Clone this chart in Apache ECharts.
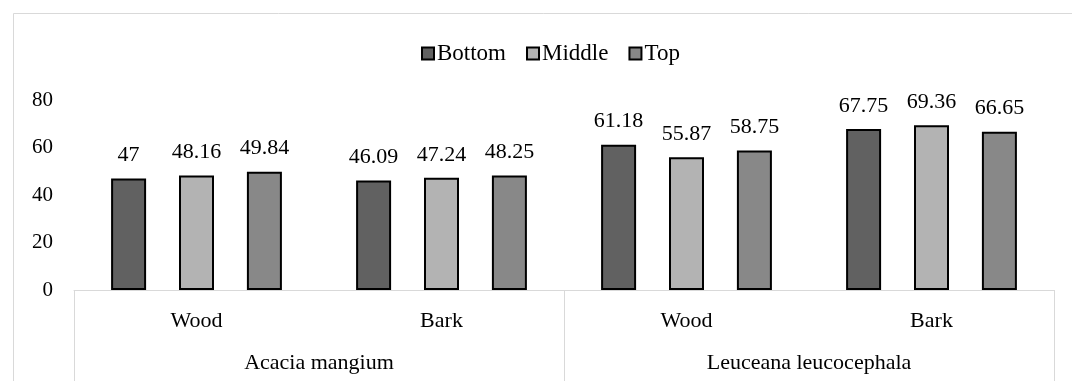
<!DOCTYPE html>
<html>
<head>
<meta charset="utf-8">
<script src="https://cdn.jsdelivr.net/npm/echarts@6/dist/echarts.min.js"></script>
<style>html,body{margin:0;padding:0;background:#fff}#c{width:1072px;height:381px}</style>
</head>
<body>
<div id="c"></div>
<script>
const subCategories = ['Wood', 'Bark', 'Wood', 'Bark'];
const groupCategories = ['Acacia mangium', 'Leuceana leucocephala'];
const seriesNames = ['Bottom', 'Middle', 'Top'];
const bottomValues = [47, 46.09, 61.18, 67.75];
const middleValues = [48.16, 47.24, 55.87, 69.36];
const topValues = [49.84, 48.25, 58.75, 66.65];
const yTicks = [0, 20, 40, 60, 80];

const FONT = '"Liberation Serif", "Times New Roman", serif';
const colors = ['#616161', '#b3b3b3', '#888888'];
const valuesList = [bottomValues, middleValues, topValues];

const chart = echarts.init(document.getElementById('c'), null, {renderer: 'canvas'});
chart.setOption({
  animation: false,
  backgroundColor: '#fff',
  graphic: [{
    type: 'rect', left: 11, top: 11, z: -1,
    shape: {width: 1100, height: 420},
    style: {fill: 'none', stroke: '#d9d9d9', lineWidth: 1}
  }],
  legend: {
    left: 416, top: 37,
    itemWidth: 12, itemHeight: 12, itemGap: 20,
    icon: 'rect',
    textStyle: {fontFamily: FONT, fontSize: 23, color: '#000', padding: [0, 0, 0, -2]},
    data: seriesNames
  },
  grid: {left: 74, right: 18, top: 100, bottom: 91, containLabel: false},
  xAxis: [{
    type: 'category', data: subCategories, position: 'bottom',
    axisLine: {show: true, lineStyle: {color: '#d9d9d9', width: 1}},
    axisTick: {show: false},
    axisLabel: {margin: 20, fontFamily: FONT, fontSize: 22, color: '#000'}
  }, {
    type: 'category', data: groupCategories, position: 'bottom',
    axisLine: {show: false},
    axisTick: {show: true, length: 95, interval: 0, lineStyle: {color: '#d9d9d9', width: 1}},
    axisLabel: {margin: 62, fontFamily: FONT, fontSize: 22, color: '#000'}
  }],
  yAxis: {
    type: 'value', min: 0, max: 80, interval: 20,
    axisLine: {show: false}, axisTick: {show: false},
    splitLine: {show: false},
    axisLabel: {margin: 21, fontFamily: FONT, fontSize: 21, color: '#000',
      formatter: v => yTicks.includes(v) ? String(v) : ''}
  },
  series: seriesNames.map((name, i) => ({
    name, type: 'bar', xAxisIndex: 0, data: valuesList[i],
    barWidth: 35, barGap: '94%',
    itemStyle: {color: colors[i], borderColor: '#000', borderWidth: 2},
    label: {show: true, position: 'top', distance: 12, fontFamily: FONT, fontSize: 22, color: '#000',
      formatter: p => String(p.value)}
  }))
});
</script>
</body>
</html>
